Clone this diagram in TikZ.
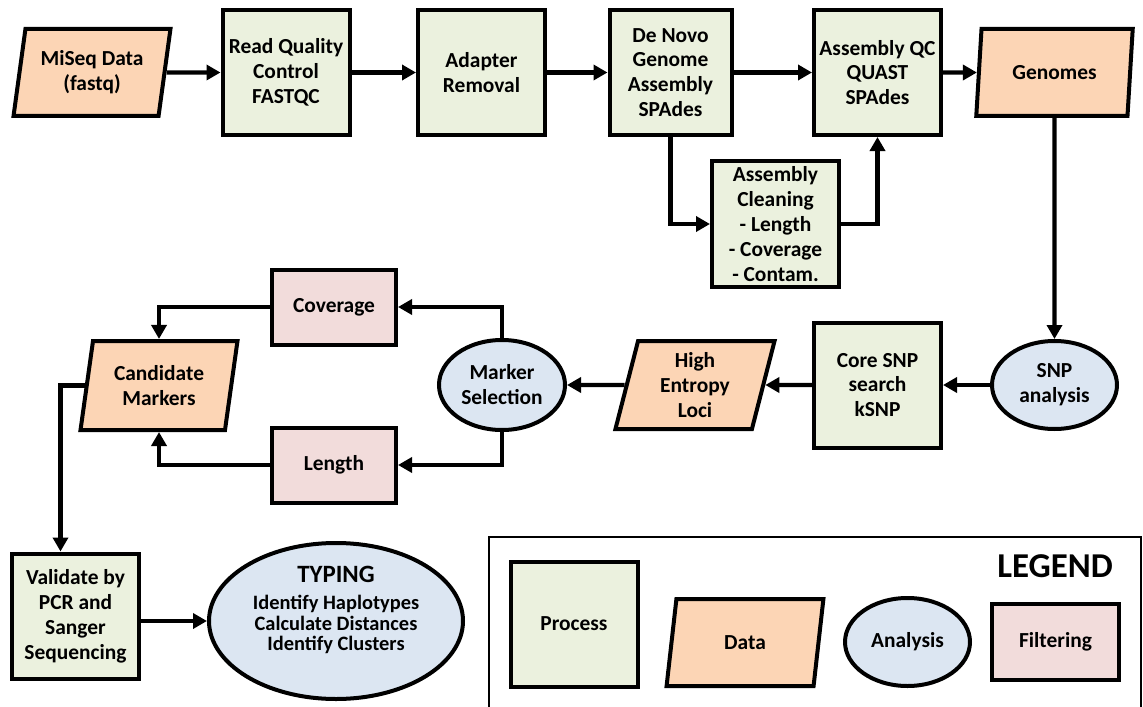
\documentclass[tikz,border=0pt]{standalone}
\usepackage{fontspec}
\setmainfont{Carlito}
\usetikzlibrary{shapes.geometric,arrows.meta}
\definecolor{procfill}{HTML}{EBF1DE}
\definecolor{datafill}{HTML}{FCD5B5}
\definecolor{anafill}{HTML}{DCE6F2}
\definecolor{filtfill}{HTML}{F2DCDB}
\begin{document}
\begin{tikzpicture}[x=1bp, y=-1bp,
    every node/.style={font=\bfseries\fontsize{21.5}{25}\selectfont, align=center, inner sep=0pt},
    process/.style={rectangle, draw, line width=4bp, fill=procfill, minimum width=127bp, minimum height=125bp},
    dataio/.style={trapezium, trapezium left angle=78, trapezium right angle=102, trapezium stretches=true, draw, line width=4bp, fill=datafill, minimum width=157bp, minimum height=87bp},
    analysis/.style={ellipse, draw, line width=4bp, fill=anafill, minimum width=125bp, minimum height=88bp},
    filtering/.style={rectangle, draw, line width=4bp, fill=filtfill, minimum width=124bp, minimum height=75bp},
    arrow/.style={->, line width=4.4bp, >={Triangle[length=14bp,width=15bp]}}
]
\useasboundingbox (0,0) rectangle (1143,707);

% pipeline, top row
\node[dataio] (miseq) at (92,72.5) {MiSeq Data\\(fastq)};
\node[process] (rqc) at (286,72.5) {Read Quality\\Control\\FASTQC};
\node[process] (adapt) at (481.5,72.5) {Adapter\\Removal};
\node[process, minimum width=122bp] (denovo) at (670.5,72.5) {De Novo\\Genome\\Assembly\\SPAdes};
\node[process] (qc) at (877.5,72.5) {Assembly QC\\QUAST\\SPAdes};
\node[dataio] (genomes) at (1054.5,72.5) {Genomes};
\node[process] (clean) at (775.5,224) {Assembly\\Cleaning\\- Length\\- Coverage\\- Contam.};

% marker search
\node[analysis] (snp) at (1054.5,385) {SNP\\analysis};
\node[process] (core) at (877.5,385) {Core SNP\\search\\kSNP};
\node[dataio, minimum width=160bp, minimum height=88bp] (loci) at (695,385) {High\\Entropy\\Loci};
\node[analysis, minimum width=126bp, minimum height=90bp] (marker) at (502,385) {Marker\\Selection};
\node[filtering] (cov) at (334,307) {Coverage};
\node[filtering] (len) at (334,465) {Length};
\node[dataio, minimum height=89bp] (cand) at (159,385.5) {Candidate\\Markers};

% validation and typing
\node[process] (valid) at (75.5,616) {Validate by\\PCR and\\Sanger\\Sequencing};
\node[analysis, minimum width=254bp, minimum height=156bp] (typing) at (336,621) {};
\node[font=\bfseries\fontsize{20.5}{20.5}\selectfont] (typtext) at (336,610) {{\fontsize{25}{27}\selectfont TYPING}\\[7bp]Identify Haplotypes\\Calculate Distances\\Identify Clusters};

% legend
\draw[line width=1.2bp] (489,707) -- (489,537) -- (1141,537) -- (1141,707);
\node[font=\bfseries\fontsize{35}{40}\selectfont] (legend) at (1055,566) {LEGEND};
\node[process] (lproc) at (574,624) {Process};
\node[dataio] (ldata) at (745,642.5) {Data};
\node[analysis] (lana) at (907.5,642) {Analysis};
\node[filtering, minimum width=127bp, minimum height=76bp] (lfilt) at (1055.5,642) {Filtering};

\draw[arrow] (miseq) -- (rqc);
\draw[arrow] (rqc) -- (adapt);
\draw[arrow] (adapt) -- (denovo);
\draw[arrow] (denovo) -- (qc);
\draw[arrow] (qc) -- (genomes);
\draw[arrow] (denovo.south) |- (clean.west);
\draw[arrow] (clean.east) -| (qc.south);
\draw[arrow] (genomes) -- (snp);
\draw[arrow] (snp) -- (core);
\draw[arrow] (core) -- (loci);
\draw[arrow] (loci) -- (marker);
\draw[arrow] (marker.north) |- (cov.east);
\draw[arrow] (marker.south) |- (len.east);
\draw[arrow] (cov.west) -| (cand.north);
\draw[arrow] (len.west) -| (cand.south);
\draw[arrow] (cand.west) -| ([xshift=-15bp]valid.north);
\draw[arrow] (valid.east |- typing.west) -- (typing.west);
\end{tikzpicture}
\end{document}
